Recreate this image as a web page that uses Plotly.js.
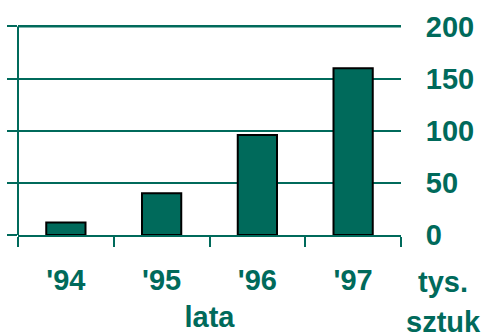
<!DOCTYPE html>
<html>
<head>
<meta charset="utf-8">
<script src="https://cdn.plot.ly/plotly-3.0.1.min.js"></script>
<style>html,body{margin:0;padding:0;background:#fff;}#chart{width:484px;height:333px;}</style>
</head>
<body>
<div id="chart"></div>
<script>
const categories = ["'94", "'95", "'96", "'97"];
const values = [12, 40, 96, 160];
const yTicks = [0, 50, 100, 150, 200];
const xTitle = "lata";
const unitLines = ["tys.", "sztuk"];

const teal = "#006A5B";
const fontFamily = "Liberation Sans, Arial, sans-serif";

const data = [
  {
    type: "bar",
    x: categories,
    y: values,
    width: 0.41,
    marker: { color: teal, line: { color: "#000", width: 2 } },
    hoverinfo: "skip"
  },
  {
    type: "scatter",
    x: categories,
    y: values,
    yaxis: "y2",
    mode: "none",
    showlegend: false,
    hoverinfo: "skip"
  }
];

const yRange = [0, 210];
const plotBottom = 98;
const plotTop = 333 - plotBottom - 209 * yRange[1] / 200;
const yMax = yTicks[yTicks.length - 1];

const unitY = [-0.215, -0.395];

const layout = {
  width: 484,
  height: 333,
  margin: { l: 18, r: 83, t: plotTop, b: plotBottom },
  paper_bgcolor: "#fff",
  plot_bgcolor: "#fff",
  showlegend: false,
  bargap: 0.59,
  font: { family: fontFamily, color: teal, size: 29 },
  xaxis: {
    type: "category",
    showline: true,
    linecolor: teal,
    linewidth: 2,
    ticks: "outside",
    tickson: "boundaries",
    ticklen: 10,
    tickwidth: 2,
    tickcolor: teal,
    showgrid: false,
    zeroline: false,
    tickfont: { family: fontFamily, size: 29, color: teal, weight: "bold" },
    ticklabelstandoff: 18,
    title: { text: "<b>" + xTitle + "</b>", font: { family: fontFamily, size: 29, color: teal }, standoff: 12 }
  },
  yaxis: {
    range: yRange,
    tickvals: yTicks,
    showticklabels: false,
    showline: false,
    ticks: "outside",
    ticklen: 10,
    tickwidth: 2,
    tickcolor: teal,
    showgrid: true,
    gridcolor: teal,
    gridwidth: 2,
    zeroline: false
  },
  yaxis2: {
    range: yRange,
    overlaying: "y",
    side: "right",
    tickvals: yTicks,
    ticktext: yTicks.map(String),
    showticklabels: true,
    showgrid: false,
    showline: false,
    zeroline: false,
    ticks: "outside",
    ticklen: 18,
    tickcolor: "rgba(0,0,0,0)",
    tickfont: { family: fontFamily, size: 29, color: teal, weight: "bold" }
  },
  shapes: [
    {
      type: "line",
      xref: "paper",
      yref: "y",
      x0: 0,
      x1: 0,
      y0: 0,
      y1: yMax,
      line: { color: teal, width: 2 },
      layer: "above"
    },
    {
      type: "line",
      xref: "paper",
      yref: "y",
      x0: 0,
      x1: 1,
      y0: yMax,
      y1: yMax,
      line: { color: teal, width: 2 },
      layer: "above"
    }
  ],
  annotations: unitLines.map((t, i) => ({
    text: "<b>" + t + "</b>",
    xref: "paper",
    yref: "paper",
    x: 1.11,
    y: unitY[i],
    xanchor: "center",
    yanchor: "middle",
    showarrow: false,
    font: { family: fontFamily, size: 29, color: teal }
  }))
};

Plotly.newPlot("chart", data, layout, { displayModeBar: false, staticPlot: true });
</script>
</body>
</html>
